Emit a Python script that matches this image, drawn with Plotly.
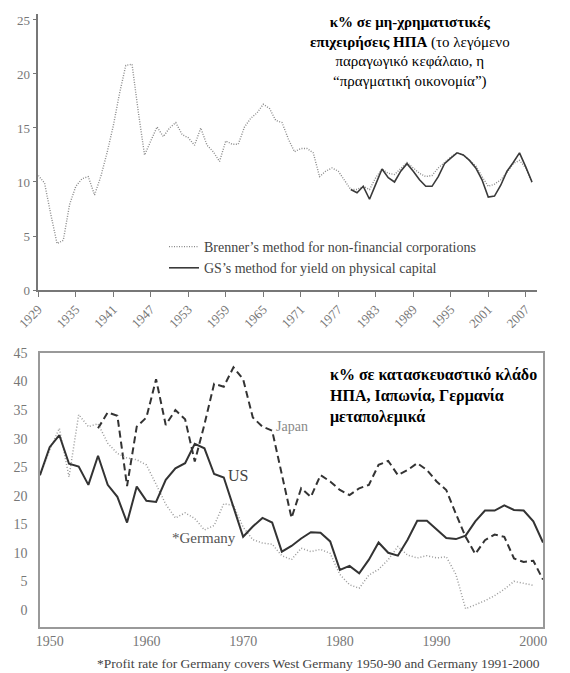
import plotly.graph_objects as go

# --- top panel: US non-financial corporations profit rate ---
years_top = list(range(1929, 2009))
brenner = [10.6, 9.9, 7.0, 4.3, 4.6, 7.9, 9.6, 10.3, 10.5, 8.8,
           10.5, 12.7, 15.2, 18.2, 20.8, 20.9, 16.5, 12.5, 13.8, 15.1,
           14.2, 15.0, 15.5, 14.4, 14.1, 13.4, 15.0, 13.4, 12.8, 11.9,
           13.8, 13.5, 13.5, 15.1, 15.9, 16.4, 17.2, 16.8, 15.7, 15.5,
           14.0, 12.8, 13.1, 13.1, 12.7, 10.5, 11.0, 11.3, 11.0, 10.2,
           9.3, 9.3, 9.6, 9.3, 10.4, 11.2, 10.8, 10.7, 11.3, 11.8,
           11.3, 10.8, 10.5, 10.6, 11.3, 11.8, 12.3, 12.7, 12.5, 12.0,
           11.5, 10.5, 9.6, 9.8, 10.2, 10.9, 11.7, 12.0, 11.3, 9.9]
years_gs = list(range(1979, 2009))
gs = [9.3, 9.0, 9.6, 8.4, 9.8, 11.2, 10.4, 10.0, 11.0, 11.7,
      11.0, 10.2, 9.6, 9.6, 10.5, 11.7, 12.2, 12.7, 12.5, 12.0,
      11.3, 10.2, 8.6, 8.7, 9.7, 11.0, 11.8, 12.7, 11.4, 10.0]
top_ticks = list(range(1929, 2008, 6))

# --- bottom panel: manufacturing profit rates ---
years_us = list(range(1949, 2002))
us = [23.6, 28.5, 30.6, 25.6, 25.1, 21.9, 27.0, 21.9, 19.8, 15.3,
      21.6, 19.1, 18.9, 22.8, 24.8, 25.7, 29.1, 28.3, 23.8, 23.2,
      18.0, 12.8, 14.6, 16.1, 15.3, 10.2, 11.2, 12.5, 13.6, 13.5,
      12.0, 7.0, 7.7, 6.4, 8.8, 11.8, 10.0, 9.5, 12.3, 15.6,
      15.6, 14.1, 12.6, 12.4, 13.0, 15.5, 17.4, 17.4, 18.3, 17.5,
      17.4, 15.5, 11.8]
years_jp = list(range(1955, 2002))
japan = [31.8, 34.6, 34.0, 21.7, 32.1, 33.7, 40.4, 32.4, 35.0, 33.4,
         26.0, 32.5, 39.6, 39.1, 42.5, 40.4, 33.7, 32.1, 31.4, 23.7,
         16.1, 21.3, 19.8, 23.6, 22.5, 21.0, 20.1, 21.3, 21.9, 25.4,
         26.1, 23.6, 24.5, 25.7, 24.5, 22.5, 21.0, 16.8, 12.8, 9.8,
         12.2, 13.2, 12.8, 9.0, 8.4, 8.6, 5.3]
years_de = list(range(1949, 2001))
germany = [23.6, 28.0, 31.8, 23.3, 34.2, 32.1, 32.6, 29.2, 27.4, 26.6,
           26.3, 25.4, 22.0, 18.5, 16.1, 17.0, 16.0, 14.0, 14.8, 18.6,
           18.3, 14.5, 12.3, 11.7, 11.5, 9.5, 8.8, 10.8, 10.2, 10.6,
           9.9, 6.2, 4.4, 3.8, 6.1, 7.1, 8.8, 11.1, 9.6, 9.1,
           9.5, 9.1, 9.3, 6.2, 0.2, 0.9, 1.6, 2.5, 3.6, 5.0,
           4.7, 4.3]
bottom_ticks = [1950, 1960, 1970, 1980, 1990, 2000]

SERIF = "Liberation Serif"
W, H = 570, 673

fig = go.Figure()

fig.add_trace(go.Scatter(
    x=years_top, y=brenner, mode="lines",
    name="Brenner’s method for non-financial corporations",
    line=dict(color="#8a8a8a", width=1.4, dash="1px,1.5px"),
    xaxis="x", yaxis="y"
))
fig.add_trace(go.Scatter(
    x=years_gs, y=gs, mode="lines",
    name="GS’s method for yield on physical capital",
    line=dict(color="#3a3a3a", width=1.6),
    xaxis="x", yaxis="y"
))

fig.add_trace(go.Scatter(
    x=years_jp, y=japan, mode="lines", showlegend=False,
    line=dict(color="#333333", width=2, dash="7px,4px"),
    xaxis="x2", yaxis="y2"
))
fig.add_trace(go.Scatter(
    x=years_de, y=germany, mode="lines", showlegend=False,
    line=dict(color="#9a9a9a", width=1.5, dash="1px,2px"),
    xaxis="x2", yaxis="y2"
))
fig.add_trace(go.Scatter(
    x=years_us, y=us, mode="lines", showlegend=False,
    line=dict(color="#333333", width=2),
    xaxis="x2", yaxis="y2"
))

tick_font = dict(family=SERIF, size=13, color="#777")

fig.update_layout(
    width=W, height=H,
    margin=dict(l=0, r=0, t=0, b=0),
    paper_bgcolor="white",
    plot_bgcolor="white",
    font=dict(family=SERIF, color="#444"),
    xaxis=dict(
        domain=[38.3 / W, 537 / W], range=[1929, 2008.8], automargin=False,
        tickvals=top_ticks, tickangle=-45, ticks="outside", ticklen=5,
        tickcolor="#777", showline=True, linecolor="#777", linewidth=1.5,
        showgrid=False, zeroline=False, tickfont=tick_font
    ),
    yaxis=dict(
        domain=[(H - 290) / H, (H - 13.5) / H], range=[0, 25.6], automargin=False,
        tickvals=[0, 5, 10, 15, 20, 25], ticks="outside", ticklen=4,
        tickcolor="#777", showline=True, linecolor="#777", linewidth=1.5,
        showgrid=False, zeroline=False, tickfont=tick_font
    ),
    xaxis2=dict(
        domain=[40 / W, 543 / W], range=[1949, 2001], anchor="y2", automargin=False,
        tickvals=bottom_ticks, ticks="", showline=True, mirror=True,
        linecolor="#999", linewidth=1.5, showgrid=False, zeroline=False,
        tickfont=dict(family=SERIF, size=14, color="#777")
    ),
    yaxis2=dict(
        domain=[(H - 627) / H, (H - 353) / H], range=[-3, 45], anchor="x2",
        automargin=False,
        tickvals=list(range(0, 46, 5)), ticks="outside", ticklen=8,
        tickcolor="rgba(0,0,0,0)", showline=True, mirror=True,
        linecolor="#999", linewidth=1.5, showgrid=False, zeroline=False,
        tickfont=dict(family=SERIF, size=14, color="#777")
    ),
    legend=dict(
        x=164 / W, y=(H - 231) / H, xanchor="left", yanchor="top",
        bgcolor="rgba(0,0,0,0)", font=dict(family=SERIF, size=14, color="#444"),
        itemwidth=30, tracegroupgap=0
    ),
)

fig.add_annotation(
    x=410 / W, y=1 - 12 / H, xref="paper", yref="paper",
    xanchor="center", yanchor="top", showarrow=False, align="center",
    text="<b>κ% σε μη-χρηματιστικές</b><br><b>επιχειρήσεις ΗΠΑ</b> (το λεγόμενο<br>"
         "παραγωγικό κεφάλαιο, η<br>“πραγματική οικονομία”)",
    font=dict(family=SERIF, size=15, color="black")
)
fig.add_annotation(
    x=328 / W, y=1 - 364 / H, xref="paper", yref="paper",
    xanchor="left", yanchor="top", showarrow=False, align="left",
    text="<b>κ% σε κατασκευαστικό κλάδο<br>ΗΠΑ, Ιαπωνία, Γερμανία<br>μεταπολεμικά</b>",
    font=dict(family=SERIF, size=16, color="black")
)
fig.add_annotation(x=1975.0, y=32.2, xref="x2", yref="y2", text="Japan",
                   showarrow=False, font=dict(family=SERIF, size=14, color="#888"))
fig.add_annotation(x=1969.5, y=23.5, xref="x2", yref="y2", text="US",
                   showarrow=False, font=dict(family=SERIF, size=16, color="#444"))
fig.add_annotation(x=1966.0, y=12.6, xref="x2", yref="y2", text="*Germany",
                   showarrow=False, font=dict(family=SERIF, size=15, color="#555"))
fig.add_annotation(
    x=318 / W, y=1 - 663 / H, xref="paper", yref="paper",
    xanchor="center", yanchor="middle", showarrow=False,
    text="*Profit rate for Germany covers West Germany 1950-90 and Germany 1991-2000",
    font=dict(family=SERIF, size=13.5, color="#444")
)

# drop the browser's default body margin so the figure sits at the page corner
fig.write_html("out.html", config={"displayModeBar": False},
               post_script="document.body.style.margin='0';")
